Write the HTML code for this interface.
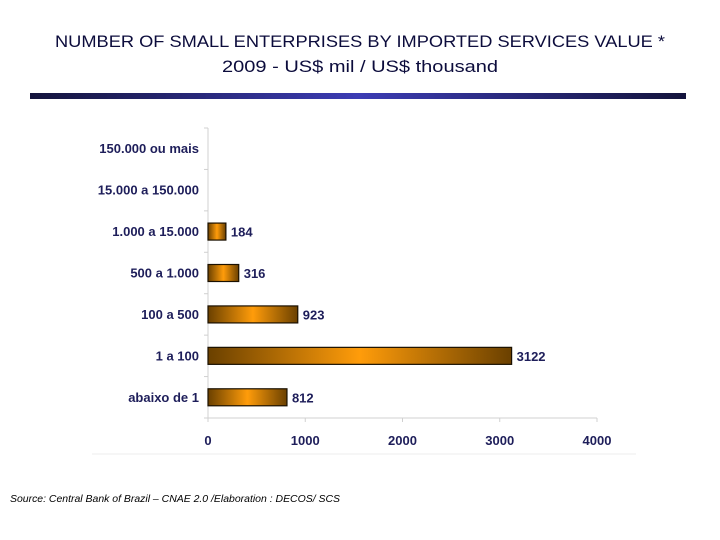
<!DOCTYPE html>
<html><head><meta charset="utf-8">
<style>
html,body{margin:0;padding:0;background:#fff;}
svg{display:block;font-family:"Liberation Sans",sans-serif;}
</style></head>
<body>
<svg id="chart" width="720" height="540" viewBox="0 0 720 540">
<defs>
<linearGradient id="hdr" x1="0" x2="1" y1="0" y2="0">
<stop offset="0" stop-color="#14143c"/><stop offset="0.5" stop-color="#3c3cb4"/><stop offset="1" stop-color="#14143c"/>
</linearGradient>
<linearGradient id="barg" x1="0" x2="1" y1="0" y2="0">
<stop offset="0" stop-color="#6a4000"/><stop offset="0.5" stop-color="#ff9c0a"/><stop offset="1" stop-color="#6a4000"/>
</linearGradient>
</defs>
<text x="360" y="47" text-anchor="middle" font-size="17" fill="#0c0c3c" textLength="610" lengthAdjust="spacingAndGlyphs">NUMBER OF SMALL ENTERPRISES BY IMPORTED SERVICES VALUE *</text>
<text x="360" y="72" text-anchor="middle" font-size="17" fill="#0c0c3c" textLength="276" lengthAdjust="spacingAndGlyphs">2009 - US$ mil / US$ thousand</text>
<rect x="30" y="93" width="656" height="6" fill="url(#hdr)"/>
<line x1="92" y1="454" x2="636" y2="454" stroke="#eeeeee" stroke-width="1"/>
<g id="plot"></g>
<text x="10" y="502" font-size="10.5" font-style="italic" fill="#000" textLength="330" lengthAdjust="spacingAndGlyphs">Source: Central Bank of Brazil – CNAE 2.0 /Elaboration : DECOS/ SCS</text>
</svg>
<script>
const categories = ["150.000 ou mais","15.000 a 150.000","1.000 a 15.000","500 a 1.000","100 a 500","1 a 100","abaixo de 1"];
const values = [0, 0, 184, 316, 923, 3122, 812];
const xTicks = [0, 1000, 2000, 3000, 4000];

const NS = "http://www.w3.org/2000/svg";
const g = document.getElementById("plot");
const x0 = 208, x1 = 597, xMax = 4000, yTop = 128, yBot = 418;
const band = (yBot - yTop) / categories.length;
const xs = v => x0 + (v / xMax) * (x1 - x0);
const yc = i => yTop + band * (i + 0.5);
function mk(tag, attrs){const e=document.createElementNS(NS,tag);for(const k in attrs)e.setAttribute(k,attrs[k]);g.appendChild(e);return e;}

const ax = mk("line",{x1:x0,y1:yTop,x2:x0,y2:yBot,stroke:"#d0d0d0"});


const bx = mk("line",{x1:x0,y1:yBot,x2:x1,y2:yBot,stroke:"#d0d0d0"});



for (let i = 0; i <= categories.length; i++) {
  const t = mk("line",{x1:x0-4,x2:x0,y1:yTop+band*i,y2:yTop+band*i,stroke:"#d0d0d0"});
  
  
}
xTicks.forEach(v => {
  const t = mk("line",{x1:xs(v),x2:xs(v),y1:yBot,y2:yBot+4,stroke:"#d0d0d0"});
  
  
  const l = mk("text",{x:xs(v),y:yBot+27,"text-anchor":"middle","font-size":"13","font-weight":"bold",fill:"#1e1e5a"});
  l.textContent = v;
  
  
});

categories.forEach((c, i) => {
  const y = yc(i);
  const l = mk("text",{x:x0-9,y:y+4.5,"text-anchor":"end","font-size":"13","font-weight":"bold",fill:"#1e1e5a"});
  l.textContent = c;
  
  
  const v = values[i];
  if (v > 0) {
    const b = mk("rect",{x:x0,y:y-8.5,width:xs(v)-x0,height:17,fill:"url(#barg)",stroke:"#1a1000","stroke-width":"1.2"});
    
    
    const vl = mk("text",{x:xs(v)+5,y:y+5,"font-size":"13","font-weight":"bold",fill:"#1e1e5a"});
    vl.textContent = v;
    
    
  }
});
</script>
</body></html>
